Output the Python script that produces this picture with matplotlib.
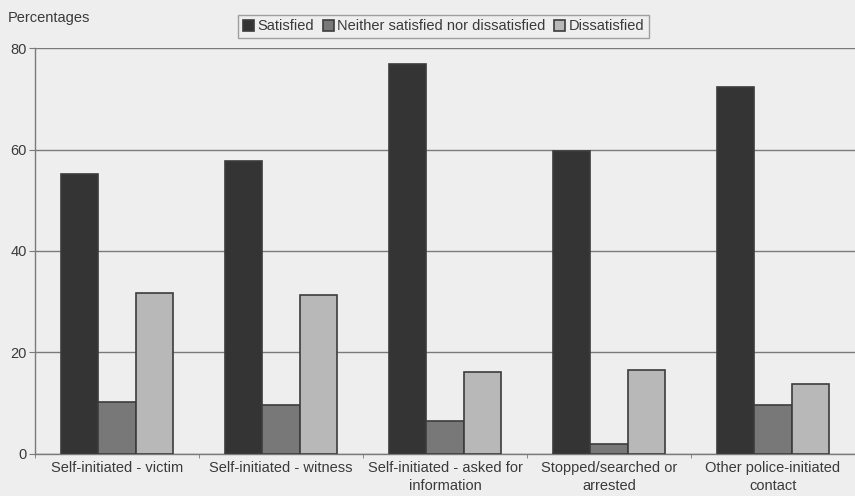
import numpy as np
import matplotlib
matplotlib.use('Agg')
import matplotlib.pyplot as plt

categories = ['Self-initiated - victim', 'Self-initiated - witness',
              'Self-initiated - asked for\ninformation',
              'Stopped/searched or\narrested',
              'Other police-initiated\ncontact']
satisfied = [55.2, 57.8, 76.8, 59.7, 72.3]
neither = [10.2, 9.7, 6.4, 1.9, 9.6]
dissatisfied = [31.8, 31.4, 16.1, 16.6, 13.7]
series_names = ['Satisfied', 'Neither satisfied nor dissatisfied', 'Dissatisfied']
y_ticks = [0, 20, 40, 60, 80]

plt.rcParams['font.family'] = ['Liberation Sans', 'DejaVu Sans']

bg = '#eeeeee'
text_col = '#3a3a3a'
grid_col = '#7a7a7a'

fig = plt.figure(figsize=(8.55, 4.96), dpi=100)
fig.patch.set_facecolor(bg)
ax = fig.add_axes([0.041, 0.085, 0.959, 0.818])
ax.set_facecolor(bg)

x = np.arange(len(categories))
w = 0.228
colors = ['#343434', '#787878', '#b8b8b8']
for i, (vals, col, name) in enumerate(zip([satisfied, neither, dissatisfied],
                                          colors, series_names)):
    ax.bar(x + (i - 1) * w, vals, width=w, color=col, edgecolor='#3c3c3c',
           linewidth=1.2, label=name, zorder=3)

ax.set_xlim(-0.5, len(categories) - 0.5)
ax.set_ylim(0, 80)
ax.set_yticks(y_ticks)
ax.yaxis.grid(True, color=grid_col, linewidth=1.0, zorder=0)
ax.set_xticks(x)
ax.set_xticklabels(categories, fontsize=10.5, color=text_col, linespacing=1.4)
ax.set_xticks(np.arange(len(categories) + 1) - 0.5, minor=True)
ax.tick_params(axis='x', which='major', length=0, pad=5)
ax.tick_params(axis='x', which='minor', length=3, color=grid_col)
ax.tick_params(axis='y', length=4, color=grid_col, labelsize=10.5,
               labelcolor=text_col, pad=2)

for side in ('top', 'right'):
    ax.spines[side].set_visible(False)
for side in ('left', 'bottom'):
    ax.spines[side].set_color(grid_col)
    ax.spines[side].set_linewidth(1.0)

fig.text(0.009, 0.963, 'Percentages', fontsize=10.5, color=text_col,
         ha='left', va='center')

leg = fig.legend(loc='center', bbox_to_anchor=(0.519, 0.947), ncol=3,
                 fontsize=10.5, frameon=True, fancybox=False,
                 handlelength=0.75, handleheight=0.75, handletextpad=0.25,
                 columnspacing=0.6, borderpad=0.3, labelcolor=text_col)
leg.get_frame().set_facecolor(bg)
leg.get_frame().set_edgecolor('#8a8a8a')
leg.get_frame().set_linewidth(1.0)

fig.savefig('out.png', dpi=100, facecolor=fig.get_facecolor())
